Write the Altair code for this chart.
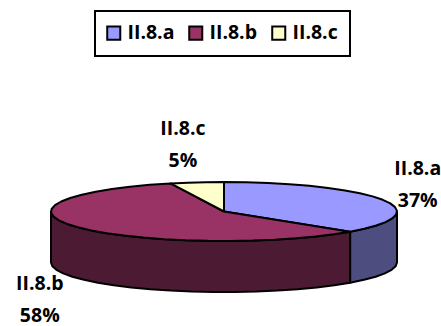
import math
import altair as alt
import pandas as pd

# Survey shares for each answer
categories = ["II.8.a", "II.8.b", "II.8.c"]
shares = [37, 58, 5]
top_colors = ["#9999FF", "#993366", "#FFFFCC"]
side_colors = ["#4D4D80", "#4D1A33", "#808066"]

W, H = 441, 326
CX, CY, RX, RY = 224, 211.5, 173, 29.5
DEPTH = 51
STEP = 7.5
FONT = "Open Sans"
FONT_SIZE = 19.5

x_scale = alt.Scale(domain=[0, W], nice=False, zero=False)
y_scale = alt.Scale(domain=[H, 0], nice=False, zero=False)


def rim(a0, a1, drop=0.0):
    """Points on the pie's rim, clockwise from a0 to a1 (degrees from 12 o'clock)."""
    n = max(1, math.ceil((a1 - a0) / STEP))
    pts = []
    for i in range(n + 1):
        t = math.radians(a0 + (a1 - a0) * i / n)
        pts.append((CX + RX * math.sin(t), CY - RY * math.cos(t) + drop))
    return pts


def polygon(points, color):
    """A closed outline filled with one colour."""
    rows = [{"px": x, "py": y, "i": i} for i, (x, y) in enumerate(points)]
    rows.append({**rows[0], "i": len(rows)})
    return (
        alt.Chart(pd.DataFrame(rows))
        .mark_line(fill=color, stroke="black", strokeWidth=2, strokeJoin="round", clip=False)
        .encode(
            x=alt.X("px:Q", scale=x_scale, axis=None),
            y=alt.Y("py:Q", scale=y_scale, axis=None),
            order="i:Q",
        )
    )


# Slice extents, clockwise from 12 o'clock
spans = []
start = 0.0
for s in shares:
    spans.append((start, start + s * 3.6))
    start += s * 3.6

layers = []

# Visible outer wall: only the front half of the rim (90 to 270 degrees)
for (a0, a1), col in zip(spans, side_colors):
    lo, hi = max(a0, 90), min(a1, 270)
    if lo < hi:
        layers.append(polygon(rim(lo, hi) + rim(lo, hi, DEPTH)[::-1], col))

# Top face
for (a0, a1), col in zip(spans, top_colors):
    layers.append(polygon([(CX, CY)] + rim(a0, a1), col))

# Two-line data labels set outside each slice, around its mid-angle
nudges = {"II.8.a": (0, 0), "II.8.b": (-6, 1.5), "II.8.c": (-8, 1)}
label_rows = []
for cat, share, (a0, a1) in zip(categories, shares, spans):
    mid = math.radians((a0 + a1) / 2)
    dx, dy = nudges[cat]
    lx = CX + 1.22 * RX * math.sin(mid) + dx
    ly = CY - 2.3 * RY * math.cos(mid) + dy + (DEPTH if math.cos(mid) < 0 else 0)
    label_rows.append({"px": lx, "py": ly - 16, "text": cat})
    label_rows.append({"px": lx, "py": ly + 16, "text": f"{share}%"})

labels = (
    alt.Chart(pd.DataFrame(label_rows))
    .mark_text(font=FONT, fontWeight="bold", fontSize=FONT_SIZE, color="black", align="center", baseline="middle")
    .encode(
        x=alt.X("px:Q", scale=x_scale, axis=None),
        y=alt.Y("py:Q", scale=y_scale, axis=None),
        text="text:N",
    )
)

# Zero-sized marks that carry the legend
key = (
    alt.Chart(pd.DataFrame({"cat": categories, "share": shares}))
    .mark_square(size=0, filled=True)
    .encode(
        color=alt.Color(
            "cat:N",
            scale=alt.Scale(domain=categories, range=top_colors),
            legend=alt.Legend(
                title=None,
                orient="none",
                legendX=95,
                legendY=11,
                direction="horizontal",
                columns=3,
                symbolType="square",
                symbolSize=170,
                symbolStrokeColor="black",
                symbolStrokeWidth=2,
                symbolOpacity=1,
                symbolOffset=-3,
                labelFont=FONT,
                labelFontWeight="bold",
                labelFontSize=FONT_SIZE,
                labelColor="black",
                labelOffset=4,
                strokeColor="black",
                fillColor="white",
                padding=12,
                columnPadding=10,
            ),
        ),
    )
)

chart = (
    alt.layer(*layers, labels, key)
    .properties(width=W, height=H, padding=0, autosize=alt.AutoSizeParams(type="none"), background="white")
    .configure_view(stroke=None)
    .configure_legend(strokeWidth=2)
)

chart.save("out.html", embed_options={"renderer": "svg", "actions": False})
